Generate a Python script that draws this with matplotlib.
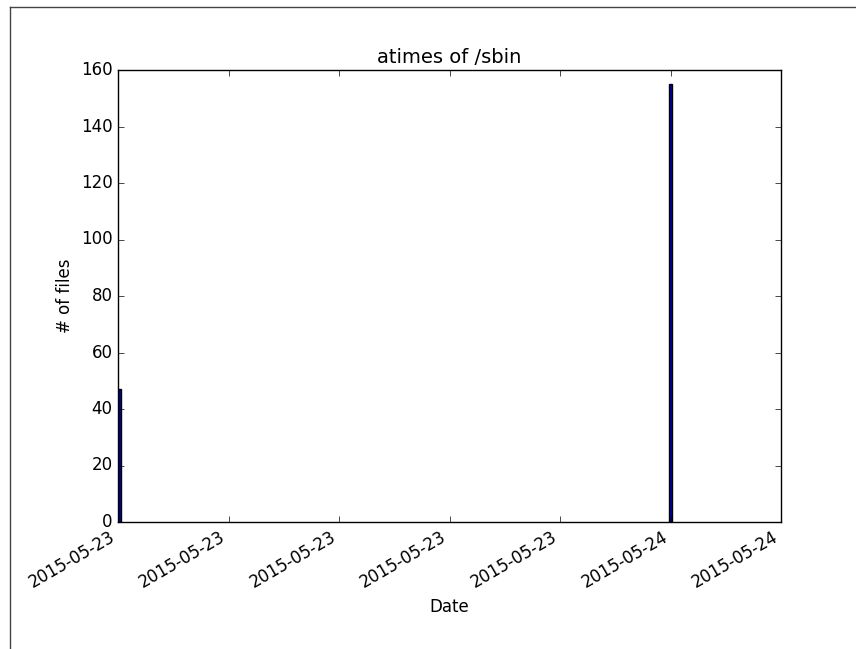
import matplotlib
matplotlib.use("Agg")
import matplotlib.pyplot as plt
import matplotlib.dates as mdates
from matplotlib.lines import Line2D
import datetime as dt

plt.style.use('classic')

bin_starts = [dt.datetime(2015, 5, 23, 19, 0), dt.datetime(2015, 5, 23, 23, 59)]
counts = [47, 155]
bin_width_days = 0.00115
x_min = dt.datetime(2015, 5, 23, 19, 0)
x_max = dt.datetime(2015, 5, 24, 1, 0)

fig = plt.figure(figsize=(8.56, 6.49), dpi=100, facecolor='white')
ax = fig.add_subplot(111)
ax.bar(mdates.date2num(bin_starts), counts, width=bin_width_days, align='edge',
       color='#0000aa', edgecolor='black', linewidth=1)
ax.set_xlim(mdates.date2num(x_min), mdates.date2num(x_max))
ax.set_ylim(0, 160)
ax.set_yticks(range(0, 161, 20))
ax.xaxis.set_major_locator(mdates.HourLocator(interval=1))
ax.xaxis.set_major_formatter(mdates.DateFormatter('%Y-%m-%d'))
ax.set_title('atimes of /sbin', fontsize=14)
ax.set_xlabel('Date', fontsize=12)
ax.set_ylabel('# of files', fontsize=12)
for lab in ax.get_xticklabels():
    lab.set_rotation(30)
    lab.set_ha('right')
ax.tick_params(labelsize=12)
fig.subplots_adjust(left=118/856, right=781/856, bottom=127/649, top=1-70/649)

# screenshot frame lines
fig.add_artist(Line2D([10/856, 10/856], [0, 1-7/649], transform=fig.transFigure, color='#444444', lw=1))
fig.add_artist(Line2D([10/856, 1], [1-7/649, 1-7/649], transform=fig.transFigure, color='#444444', lw=1))

fig.savefig('out.png', dpi=100, facecolor='white')
